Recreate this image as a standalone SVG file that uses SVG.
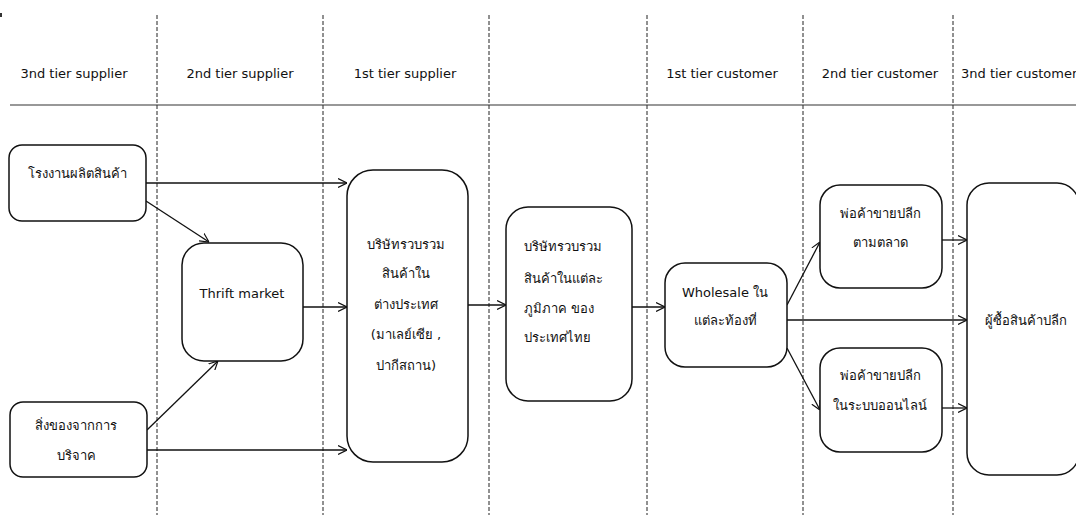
<svg xmlns="http://www.w3.org/2000/svg" width="1076" height="515" viewBox="0 0 1076 515">
  <style>
    .lane { stroke: #222; stroke-width: 1; stroke-dasharray: 4 2; fill: none; }
    .rule { stroke: #333; stroke-width: 1.2; fill: none; }
    .box { fill: #fff; stroke: #111; stroke-width: 1.5; }
    .hdr { font-family: "DejaVu Sans", "Liberation Sans", sans-serif; font-size: 13px; fill: #111; text-anchor: middle; }
    .lbl { font-family: "DejaVu Sans", "Liberation Sans", "Noto Sans", sans-serif; font-size: 13px; fill: #111; text-anchor: middle; }
    .lft { text-anchor: start; }
    .edge { stroke: #111; stroke-width: 1.3; fill: none; marker-end: url(#arrow); }
  </style>
  <defs>
    <marker id="arrow" viewBox="0 0 10 10" refX="10" refY="5" markerWidth="9" markerHeight="10" markerUnits="userSpaceOnUse" orient="auto">
      <path d="M0,0 L10,5 L0,10" fill="none" stroke="#111" stroke-width="1.3"/>
    </marker>
  </defs>

  <rect x="0" y="0" width="1076" height="515" fill="#fff"/>
  <rect x="0" y="13" width="2" height="4" fill="#333"/>

  <!-- swim lanes and header rule -->
  <g id="lanes">
    <line class="lane" x1="157" y1="15" x2="157" y2="515"/>
    <line class="lane" x1="323" y1="15" x2="323" y2="515"/>
    <line class="lane" x1="489" y1="15" x2="489" y2="515"/>
    <line class="lane" x1="647" y1="15" x2="647" y2="515"/>
    <line class="lane" x1="803" y1="15" x2="803" y2="515"/>
    <line class="lane" x1="953" y1="15" x2="953" y2="515"/>
    <line class="rule" x1="10" y1="105" x2="1076" y2="105"/>
  </g>

  <g id="headers">
    <text class="hdr" x="74" y="78">3nd tier supplier</text>
    <text class="hdr" x="240" y="78">2nd tier supplier</text>
    <text class="hdr" x="405" y="78">1st tier supplier</text>
    <text class="hdr" x="722" y="78">1st tier customer</text>
    <text class="hdr" x="880" y="78">2nd tier customer</text>
    <text class="hdr lft" x="961" y="78">3nd tier customer</text>
  </g>

  <!-- connectors -->
  <g id="connectors">
    <line class="edge" x1="146" y1="183" x2="347" y2="183"/>
    <line class="edge" x1="146" y1="201" x2="209" y2="242"/>
    <line class="edge" x1="303" y1="307" x2="347" y2="307"/>
    <line class="edge" x1="147" y1="430" x2="218" y2="361"/>
    <line class="edge" x1="147" y1="450" x2="347" y2="450"/>
    <line class="edge" x1="468" y1="305" x2="506" y2="305"/>
    <line class="edge" x1="632" y1="307" x2="665" y2="307"/>
    <line class="edge" x1="787" y1="305" x2="820" y2="242"/>
    <line class="edge" x1="787" y1="320" x2="967" y2="320"/>
    <line class="edge" x1="787" y1="348" x2="820" y2="410"/>
    <line class="edge" x1="942" y1="240" x2="967" y2="240"/>
    <line class="edge" x1="942" y1="408" x2="967" y2="408"/>
  </g>

  <g id="factory">
    <rect class="box" x="9" y="145" width="137" height="76" rx="13"/>
    <text class="lbl" x="77" y="178">โรงงานผลิตสินค้า</text>
  </g>

  <g id="donation">
    <rect class="box" x="10" y="402" width="137" height="75" rx="13"/>
    <text class="lbl" x="76" y="430">สิ่งของจากการ</text>
    <text class="lbl" x="76" y="460">บริจาค</text>
  </g>

  <g id="thrift">
    <rect class="box" x="182" y="243" width="121" height="118" rx="22"/>
    <text class="lbl" x="242" y="298">Thrift market</text>
  </g>

  <g id="foreign-collector">
    <rect class="box" x="347" y="170" width="121" height="292" rx="26"/>
    <text class="lbl" x="406" y="249">บริษัทรวบรวม</text>
    <text class="lbl" x="406" y="278">สินค้าใน</text>
    <text class="lbl" x="406" y="309">ต่างประเทศ</text>
    <text class="lbl" x="406" y="339">(มาเลย์เซีย ,</text>
    <text class="lbl" x="406" y="370">ปากีสถาน)</text>
  </g>

  <g id="regional-collector">
    <rect class="box" x="506" y="207" width="126" height="194" rx="22"/>
    <text class="lbl lft" x="524" y="251">บริษัทรวบรวม</text>
    <text class="lbl lft" x="524" y="283">สินค้าในแต่ละ</text>
    <text class="lbl lft" x="524" y="313">ภูมิภาค ของ</text>
    <text class="lbl lft" x="524" y="342">ประเทศไทย</text>
  </g>

  <g id="wholesale">
    <rect class="box" x="665" y="263" width="122" height="104" rx="20"/>
    <text class="lbl" x="725" y="297">Wholesale ใน</text>
    <text class="lbl" x="725" y="325">แต่ละท้องที่</text>
  </g>

  <g id="market-retailer">
    <rect class="box" x="820" y="185" width="122" height="103" rx="20"/>
    <text class="lbl" x="880" y="218">พ่อค้าขายปลีก</text>
    <text class="lbl" x="880" y="247">ตามตลาด</text>
  </g>

  <g id="online-retailer">
    <rect class="box" x="820" y="348" width="122" height="104" rx="20"/>
    <text class="lbl" x="880" y="380">พ่อค้าขายปลีก</text>
    <text class="lbl" x="880" y="410">ในระบบออนไลน์</text>
  </g>

  <g id="retail-buyer">
    <rect class="box" x="967" y="183" width="112" height="292" rx="22"/>
    <text class="lbl lft" x="985" y="325">ผู้ซื้อสินค้าปลีก</text>
  </g>
</svg>
